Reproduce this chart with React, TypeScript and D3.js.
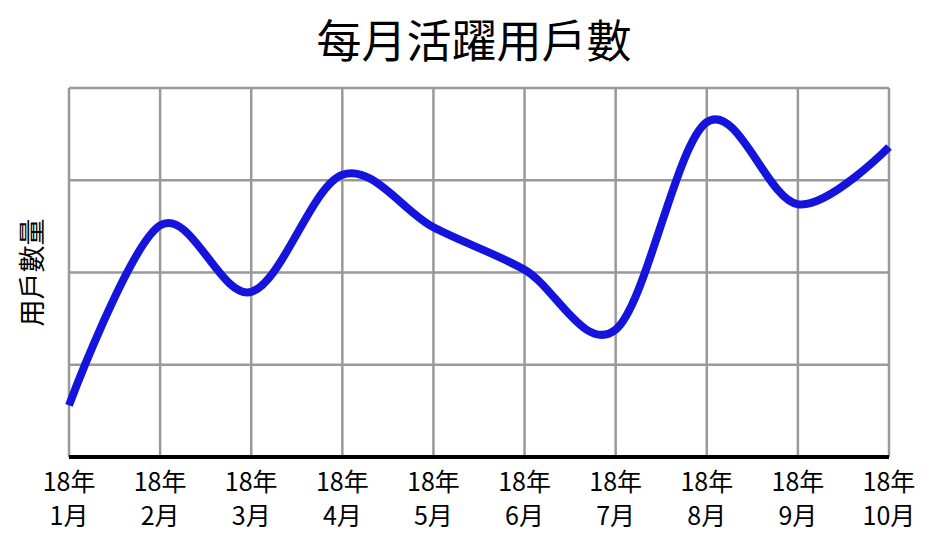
import React from "react";
import * as d3 from "d3";

const months = ["1月", "2月", "3月", "4月", "5月", "6月", "7月", "8月", "9月", "10月"];
const yearLabel = "18年";
const users = [560, 2510, 1790, 3060, 2490, 2030, 1380, 3630, 2740, 3360];
const yTicks = [0, 1000, 2000, 3000, 4000];

const width = 937;
const height = 555;
const margin = {top: 88, right: 48, bottom: 98, left: 69};
const font = "'Noto Sans CJK TC', 'Noto Sans', sans-serif";

const App = () => {
  const innerW = width - margin.left - margin.right;
  const innerH = height - margin.top - margin.bottom;

  const x = d3.scalePoint<string>().domain(months).range([0, innerW]);
  const y = d3.scaleLinear().domain([0, 4000]).range([innerH, 0]);

  const line = d3
    .line<number>()
    .x((_, i) => x(months[i]) as number)
    .y(d => y(d))
    .curve(d3.curveCardinal.tension(0));

  return (
    <svg width={width} height={height} style={{position: "absolute", left: 0, top: 0}}>
      <rect width={width} height={height} fill="white"/>
      <text x={474} y={58} textAnchor="middle" fontFamily={font} fontSize={45} fill="#000">
        每月活躍用戶數
      </text>
      <text
        transform={`translate(42 ${margin.top + innerH / 2}) rotate(-90)`}
        textAnchor="middle"
        fontFamily={font}
        fontSize={27}
        fill="#000"
      >
        用戶數量
      </text>
      <g transform={`translate(${margin.left} ${margin.top})`}>
        {months.map(m => (
          <line key={m} x1={x(m)} x2={x(m)} y1={0} y2={innerH} stroke="#999" strokeWidth={2.5}/>
        ))}
        {yTicks.slice(1).map(t => (
          <line key={t} x1={0} x2={innerW} y1={y(t)} y2={y(t)} stroke="#999" strokeWidth={2.5}/>
        ))}
        <line x1={0} x2={innerW} y1={innerH} y2={innerH} stroke="#000" strokeWidth={4}/>
        <path d={line(users) || ""} fill="none" stroke="#1414dc" strokeWidth={8}/>
        {months.map(m => (
          <g key={m}>
            <text x={x(m)} y={innerH + 34} textAnchor="middle" fontFamily={font} fontSize={25} fill="#000">
              {yearLabel}
            </text>
            <text x={x(m)} y={innerH + 68} textAnchor="middle" fontFamily={font} fontSize={25} fill="#000">
              {m}
            </text>
          </g>
        ))}
      </g>
    </svg>
  );
};

export default App;
